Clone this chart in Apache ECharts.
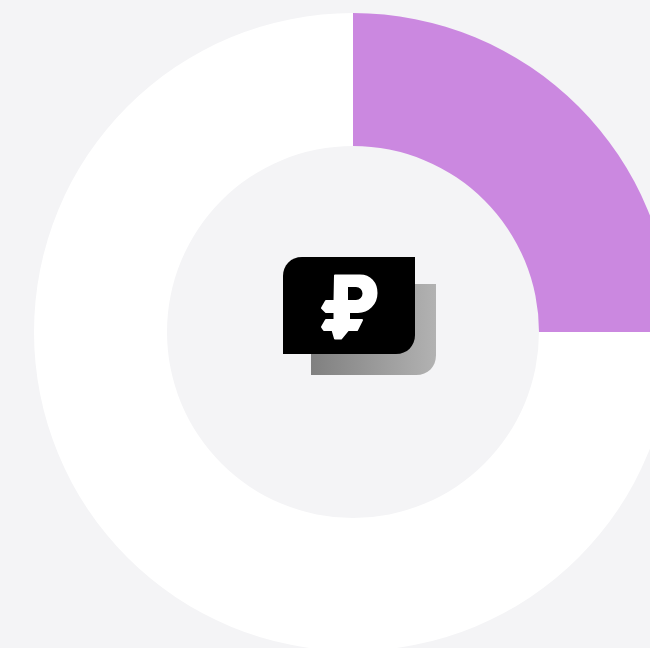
<!DOCTYPE html>
<html>
<head>
<meta charset="utf-8">
<style>
  html, body { margin: 0; padding: 0; background: #f4f4f6; }
  #main { width: 650px; height: 648px; }
</style>
<script src="https://cdn.jsdelivr.net/npm/echarts@6/dist/echarts.min.js"></script>
</head>
<body>
<div id="main"></div>
<script>
// share of the ring (one quarter filled)
var sliceNames = ['filled', 'rest'];
var sliceValues = [25, 75];
var sliceColors = ['#cb88e0', '#ffffff'];

// wallet icon shapes
echarts.graphic.registerShape('iconBack', echarts.graphic.extendPath(
  'M311 284 L436 284 L436 355 C436 367 428 375 416 375 L311 375 Z'
));
echarts.graphic.registerShape('iconFront', echarts.graphic.extendPath(
  'M302 257 L415 257 L415 335 C415 346 407 354 396 354 L283 354 L283 276 C283 265 291 257 302 257 Z'
));
echarts.graphic.registerShape('iconRuble', echarts.graphic.extendPath(
  'M335 275.5 L360 275.5 C370 275.5 376.5 283 376.5 293 C376.5 304 368 312 358 312 ' +
  'L349 312 L349 320 L362 320 L357 330 L348 330 L341 338.5 L335 338.5 L332.5 330 ' +
  'L324 330 L322 327 L326 320 L334.5 320 L334.5 312 L326 312 L322 308 L326 301 L334.5 301 Z ' +
  'M347 286 L347 301 L356 301 C360.5 301 363.5 297.5 363.5 293.5 C363.5 289.5 360.5 286 356 286 Z'
));

var chart = echarts.init(document.getElementById('main'), null, { renderer: 'canvas' });

var option = {
  backgroundColor: '#f4f4f6',
  animation: false,
  tooltip: { show: false },
  series: [{
    type: 'pie',
    center: [353, 332],
    radius: [186, 319],
    startAngle: 90,
    clockwise: true,
    silent: true,
    label: { show: false },
    labelLine: { show: false },
    data: sliceNames.map(function (name, i) {
      return { name: name, value: sliceValues[i], itemStyle: { color: sliceColors[i] } };
    })
  }],
  graphic: [
    {
      type: 'iconBack',
      silent: true,
      style: {
        fill: new echarts.graphic.LinearGradient(0, 0, 1, 0, [
          { offset: 0, color: '#808080' },
          { offset: 1, color: '#b2b2b2' }
        ])
      }
    },
    { type: 'iconFront', silent: true, style: { fill: '#000000' } },
    {
      type: 'iconRuble',
      silent: true,
      style: { fill: '#ffffff', stroke: '#ffffff', lineWidth: 2, lineJoin: 'round' }
    }
  ]
};

chart.setOption(option);
</script>
</body>
</html>
